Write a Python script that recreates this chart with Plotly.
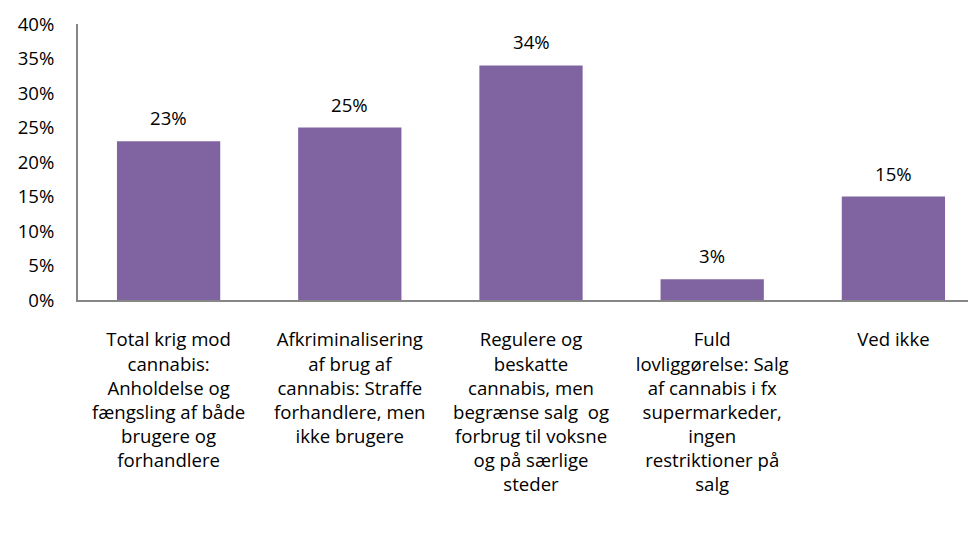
import plotly.graph_objects as go

# Data
categories = [
    "Total krig mod<br>cannabis:<br>Anholdelse og<br>fængsling af både<br>brugere og<br>forhandlere",
    "Afkriminalisering<br>af brug af<br>cannabis: Straffe<br>forhandlere, men<br>ikke brugere",
    "Regulere og<br>beskatte<br>cannabis, men<br>begrænse salg  og<br>forbrug til voksne<br>og på særlige<br>steder",
    "Fuld<br>lovliggørelse: Salg<br>af cannabis i fx<br>supermarkeder,<br>ingen<br>restriktioner på<br>salg",
    "Ved ikke",
]
values = [0.23, 0.25, 0.34, 0.03, 0.15]
y_ticks = [0, 0.05, 0.10, 0.15, 0.20, 0.25, 0.30, 0.35, 0.40]

BAR_COLOUR = "#8064A2"
FONT = dict(family="Open Sans, Lato, sans-serif", size=18.6, color="#000000")

fig = go.Figure()
fig.add_trace(
    go.Bar(
        x=categories,
        y=values,
        marker=dict(color=BAR_COLOUR, line=dict(width=0)),
        showlegend=False,
        hoverinfo="skip",
    )
)

# value labels above bars
for c, v in zip(categories, values):
    fig.add_annotation(
        x=c, y=v, text=f"{round(v * 100)}%",
        showarrow=False, yanchor="bottom", yshift=9, font=FONT,
    )

# page body has an 8px margin, so the margins are trimmed by that amount
fig.update_layout(
    width=976,
    height=533,
    plot_bgcolor="white",
    paper_bgcolor="white",
    font=FONT,
    bargap=0.43,
    margin=dict(l=70, r=0, t=16, b=241),
    xaxis=dict(
        showline=True, linecolor="#868686", linewidth=2,
        showgrid=False, ticks="", ticklabelstandoff=22,
        tickfont=FONT,
    ),
    yaxis=dict(
        range=[0, 0.4], tickvals=y_ticks, tickformat=".0%",
        showline=True, linecolor="#868686", linewidth=2,
        showgrid=False, zeroline=False, ticks="",
        ticklabelstandoff=18, ticklabeloverflow="allow", tickfont=FONT,
    ),
)

fig.write_html("out.html")
